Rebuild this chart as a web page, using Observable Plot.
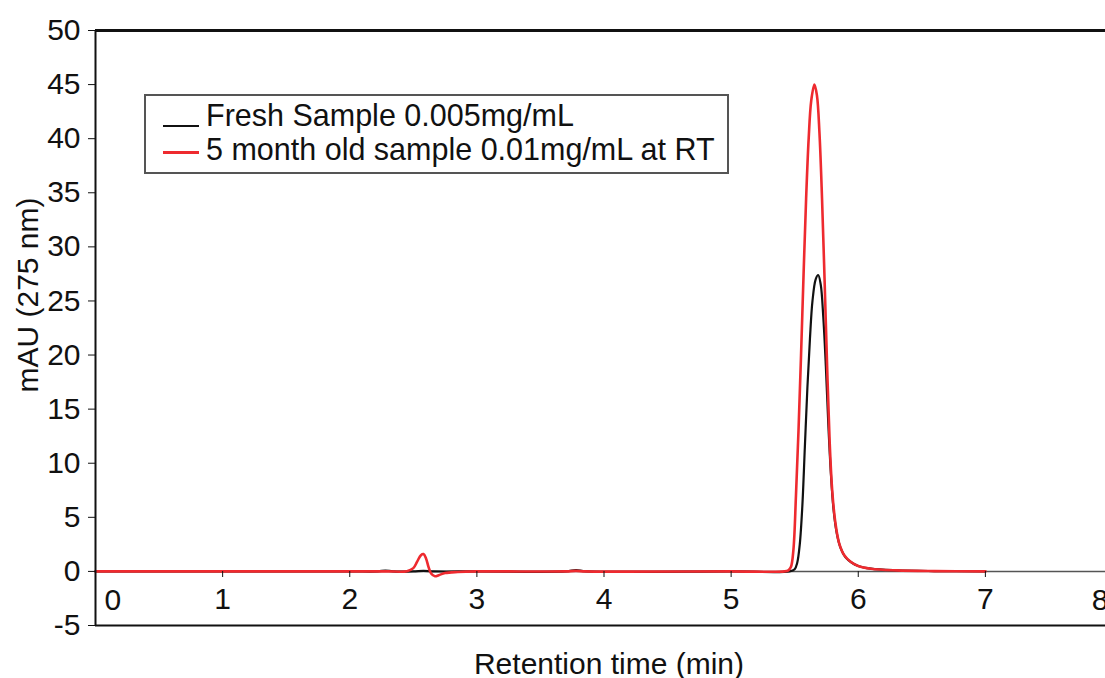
<!DOCTYPE html>
<html>
<head>
<meta charset="utf-8">
<script src="https://cdn.jsdelivr.net/npm/d3@7"></script>
<script src="https://cdn.jsdelivr.net/npm/@observablehq/plot@0.6"></script>
<style>
  html, body { margin: 0; padding: 0; background: white; overflow: hidden; }
  #wrap { position: relative; width: 1105px; height: 678px; font-family: "Liberation Sans", Arial, sans-serif; }
  #legend {
    position: absolute; left: 144px; top: 94px; width: 585px; height: 80px;
    box-sizing: border-box; border: 2px solid #555; background: white;
    font-size: 30.5px; color: #111;
  }
  .row .txt { position: absolute; left: 60px; line-height: 27px; white-space: pre; }
  .row .smp { position: absolute; left: 17px; width: 36px; }
</style>
</head>
<body>
<div id="wrap"></div>
<script>
// ---- data ----
const seriesNames = ["Fresh Sample 0.005mg/mL", "5 month old sample 0.01mg/mL at RT"];
const seriesColors = ["#111111", "#ee2a2f"];

const freshTime = [0, 1.0, 2.0, 2.22, 2.28, 2.34, 2.5, 2.58, 2.66, 3.0, 3.7, 3.78, 3.86, 5.0, 5.46, 5.5, 5.52, 5.54, 5.56, 5.58, 5.6, 5.62, 5.64, 5.665, 5.685, 5.705, 5.725, 5.745, 5.765, 5.785, 5.805, 5.83, 5.86, 5.9, 5.95, 6.0, 6.1, 6.3, 6.6, 7.0];
const freshValue = [0, 0, 0, 0, 0.08, 0, 0, 0.05, 0, 0, 0, 0.12, 0, 0, 0, 0.2, 0.8, 2.5, 6, 11.5, 17, 21.5, 25, 27, 27.4, 26.5, 23.5, 19, 13.5, 9, 5.8, 3.6, 2.2, 1.3, 0.8, 0.5, 0.25, 0.1, 0.03, 0];

const oldTime = [0, 1.0, 2.0, 2.3, 2.45, 2.5, 2.53, 2.56, 2.58, 2.6, 2.62, 2.64, 2.67, 2.7, 2.75, 2.85, 3.0, 3.7, 3.78, 3.85, 5.0, 5.42, 5.45, 5.47, 5.49, 5.51, 5.53, 5.55, 5.57, 5.59, 5.61, 5.63, 5.655, 5.675, 5.695, 5.715, 5.735, 5.755, 5.775, 5.795, 5.82, 5.85, 5.89, 5.94, 6.0, 6.1, 6.3, 6.6, 7.0];
const oldValue = [0, 0, 0, 0, 0.02, 0.3, 0.9, 1.5, 1.6, 1.2, 0.4, -0.2, -0.45, -0.35, -0.15, -0.05, 0, 0, 0.05, 0, 0, 0, 0.1, 0.4, 2.0, 7, 13, 20, 27.5, 34.5, 40, 43.5, 45.0, 44, 40.5, 34.5, 27, 19, 12, 7.5, 4.5, 2.6, 1.5, 0.9, 0.5, 0.25, 0.1, 0.03, 0];

const xInnerTicks = [1, 2, 3, 4, 5, 6, 7];
const xEdgeStart = [0];
const xEdgeEnd = [8];
const yTicks = [-5, 0, 5, 10, 15, 20, 25, 30, 35, 40, 45, 50];
const xLabel = "Retention time (min)";
const yLabel = "mAU (275 nm)";

// ---- build tables ----
const fresh = freshTime.map((t, i) => ({t, v: freshValue[i]}));
const old = oldTime.map((t, i) => ({t, v: oldValue[i]}));

const chart = Plot.plot({
  width: 1105,
  height: 678,
  marginTop: 30,
  marginBottom: 53,
  marginLeft: 95,
  marginRight: -7,
  x: {domain: [0, 8]},
  y: {domain: [-5, 50]},
  style: {fontFamily: "'Liberation Sans', Arial, sans-serif", fontSize: "30px", color: "#111", background: "white", overflow: "visible"},
  marks: [
    Plot.ruleY([0], {stroke: "#555", strokeWidth: 1.5}),
    Plot.line(fresh, {x: "t", y: "v", stroke: seriesColors[0], strokeWidth: 2.2, curve: "catmull-rom"}),
    Plot.line(old, {x: "t", y: "v", stroke: seriesColors[1], strokeWidth: 2.6, curve: "catmull-rom"}),
    Plot.ruleY([50], {stroke: "#111", strokeWidth: 3}),
    Plot.ruleY([-5], {stroke: "#111", strokeWidth: 2}),
    Plot.ruleX([0], {stroke: "#111", strokeWidth: 2}),
    Plot.axisY({ticks: yTicks, tickSize: 7, tickPadding: 8, tickFormat: d => String(d), label: null}),
    Plot.axisX({ticks: xInnerTicks, anchor: "bottom", dy: -54, tickSize: 6, tickPadding: 10, tickFormat: d => String(d), label: null}),
    Plot.axisX({ticks: xEdgeEnd, anchor: "bottom", dy: -54, tickSize: 6, tickFormat: () => "", label: null}),
    Plot.text(xEdgeStart, {x: d => d, text: d => String(d), frameAnchor: "bottom", textAnchor: "start", lineAnchor: "middle", dx: 9, dy: -25}),
    Plot.text(xEdgeEnd, {x: d => d, text: d => String(d), frameAnchor: "bottom", textAnchor: "end", lineAnchor: "middle", dx: -4, dy: -25}),
    Plot.text([yLabel], {frameAnchor: "left", textAnchor: "middle", lineAnchor: "middle", rotate: -90, dx: -67, dy: -33}),
    Plot.text([xLabel], {frameAnchor: "bottom", textAnchor: "middle", lineAnchor: "middle", dx: 5, dy: 39})
  ]
});

const wrap = document.getElementById("wrap");
wrap.appendChild(chart);

// legend overlay
const legend = document.createElement("div");
legend.id = "legend";
const rowTops = [6, 40];
const sampleTops = [29, 55];
seriesNames.forEach((name, i) => {
  const row = document.createElement("div");
  row.className = "row";
  const smp = document.createElement("div");
  smp.className = "smp";
  smp.style.top = sampleTops[i] + "px";
  smp.style.height = (i === 0 ? 2 : 3) + "px";
  smp.style.background = seriesColors[i];
  const txt = document.createElement("div");
  txt.className = "txt";
  txt.style.top = rowTops[i] + "px";
  txt.textContent = name;
  row.appendChild(smp);
  row.appendChild(txt);
  legend.appendChild(row);
});
wrap.appendChild(legend);
</script>
</body>
</html>
